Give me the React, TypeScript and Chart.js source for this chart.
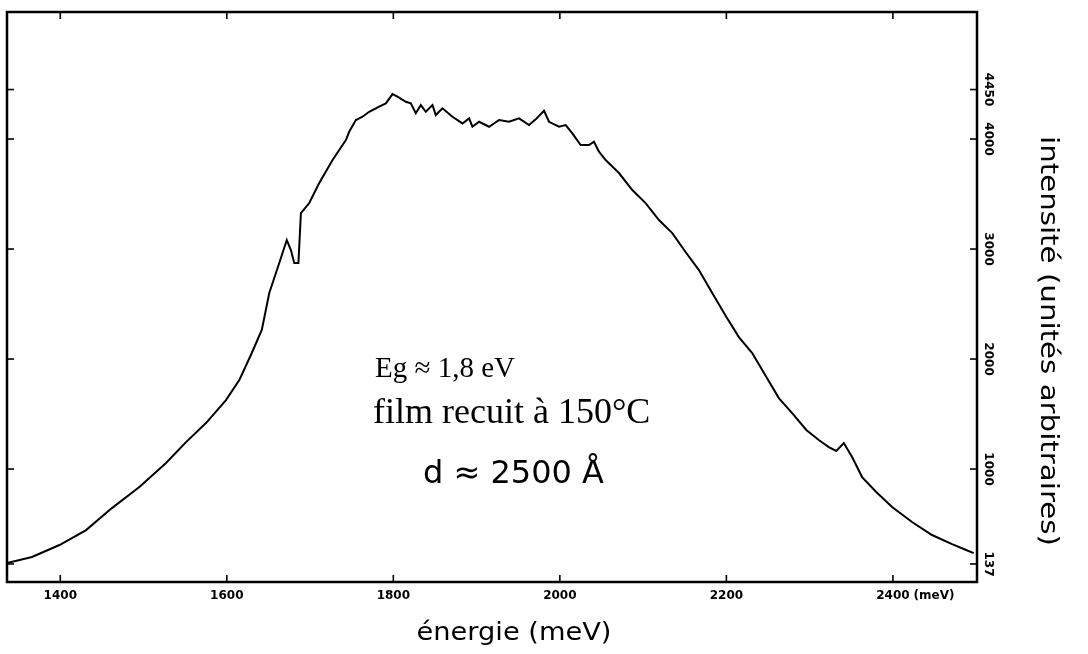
import React, { useEffect, useRef } from "react";
import { Chart, registerables } from "chart.js";

Chart.register(...registerables);

// Photon energy (meV)
const energyMeV = [
  1336, 1366, 1399, 1431, 1462, 1495, 1527, 1551, 1575, 1599, 1615, 1630, 1642, 1651, 1663,
  1672, 1677, 1681, 1686, 1689, 1699, 1711, 1727, 1743, 1747, 1755, 1763, 1771, 1783, 1791,
  1799, 1805, 1815, 1821, 1827, 1833, 1839, 1847, 1851, 1859, 1871, 1883, 1891, 1895, 1903,
  1915, 1927, 1939, 1951, 1963, 1971, 1981, 1987, 1999, 2007, 2015, 2025, 2035, 2041, 2047,
  2055, 2071, 2087, 2103, 2119, 2135, 2151, 2167, 2183, 2200, 2215, 2231, 2248, 2263, 2279,
  2296, 2311, 2323, 2332, 2341, 2351, 2363, 2380, 2399, 2423, 2447, 2471, 2488, 2497,
];

// Intensity (arbitrary units)
const intensity = [
  145, 200, 309, 445, 645, 836, 1055, 1245, 1418, 1627, 1809, 2055, 2264, 2600, 2873,
  3082, 2991, 2873, 2873, 3327, 3418, 3600, 3809, 3991, 4066, 4173, 4203, 4248, 4294, 4324,
  4409, 4385, 4339, 4324, 4234, 4309, 4248, 4309, 4218, 4279, 4203, 4142, 4188, 4112, 4157,
  4112, 4173, 4157, 4188, 4127, 4179, 4257, 4157, 4112, 4127, 4051, 3945, 3945, 3976, 3885,
  3809, 3691, 3536, 3418, 3264, 3145, 2973, 2809, 2600, 2382, 2200, 2055, 1836, 1645, 1509,
  1355, 1264, 1200, 1164, 1236, 1109, 927, 791, 655, 518, 400, 318, 264, 236,
];

const xTickValues = [1400, 1600, 1800, 2000, 2200, 2400];
const xTickLabels = ["1400", "1600", "1800", "2000", "2200", "2400"];
const xUnitLabel = "(meV)";
const yTickValues = [137, 1000, 2000, 3000, 4000, 4450];
const yTickLabels = ["137", "1000", "2000", "3000", "4000", "4450"];
const xTitle = "énergie (meV)";
const yTitle = "intensité (unités arbitraires)";
const noteGap = "Eg ≈ 1,8 eV";
const noteFilm = "film recuit à 150°C";
const noteThickness = "d ≈ 2500 Å";

const X_MIN = 1336;
const X_MAX = 2501;
const Y_MIN = -27;
const Y_MAX = 5155;

function fitText(ctx: CanvasRenderingContext2D, text: string, cx: number, cy: number, width: number, angle: number) {
  const w = ctx.measureText(text).width;
  ctx.save();
  ctx.translate(cx, cy);
  ctx.rotate(angle);
  ctx.scale(width / w, 1);
  ctx.textAlign = "center";
  ctx.textBaseline = "middle";
  ctx.fillText(text, 0, 0);
  ctx.restore();
}

const decorPlugin = {
  id: "decor",
  afterDraw(chart: any) {
    const { ctx, chartArea: a, scales } = chart;
    const xs = scales.x;
    const ys = scales.y;
    ctx.save();
    ctx.strokeStyle = "#000";
    ctx.fillStyle = "#000";
    // frame
    ctx.lineWidth = 2.5;
    ctx.strokeRect(a.left, a.top, a.right - a.left, a.bottom - a.top);
    // inward ticks
    ctx.lineWidth = 1.6;
    const seg = (x1: number, y1: number, x2: number, y2: number) => {
      ctx.beginPath();
      ctx.moveTo(x1, y1);
      ctx.lineTo(x2, y2);
      ctx.stroke();
    };
    xTickValues.forEach((v) => {
      const px = xs.getPixelForValue(v);
      seg(px, a.bottom, px, a.bottom - 7);
      seg(px, a.top, px, a.top + 7);
    });
    yTickValues.forEach((v) => {
      const py = ys.getPixelForValue(v);
      seg(a.right, py, a.right - 7, py);
      seg(a.left, py, a.left + 7, py);
    });

    // x tick labels
    ctx.font = "bold 12px 'DejaVu Sans'";
    ctx.textBaseline = "middle";
    ctx.textAlign = "center";
    xTickValues.forEach((v, i) => {
      const px = xs.getPixelForValue(v);
      ctx.fillText(xTickLabels[i], px, a.bottom + 14);
      if (i === xTickValues.length - 1) {
        const w = ctx.measureText(xTickLabels[i]).width;
        ctx.textAlign = "left";
        ctx.fillText(xUnitLabel, px + w / 2 + 4, a.bottom + 14);
        ctx.textAlign = "center";
      }
    });

    // y tick labels (rotated)
    yTickValues.forEach((v, i) => {
      const py = ys.getPixelForValue(v);
      ctx.save();
      ctx.translate(a.right + 11, py);
      ctx.rotate(Math.PI / 2);
      ctx.textAlign = "center";
      ctx.textBaseline = "middle";
      ctx.fillText(yTickLabels[i], 0, 0);
      ctx.restore();
    });

    // axis titles
    ctx.font = "24px 'DejaVu Sans'";
    fitText(ctx, xTitle, 514, 634, 195, 0);
    fitText(ctx, yTitle, 1047, 341, 410, Math.PI / 2);

    // annotations
    ctx.textAlign = "left";
    ctx.textBaseline = "alphabetic";
    ctx.font = "29px 'Liberation Serif'";
    ctx.fillText(noteGap, 375, 377);
    ctx.font = "36px 'Liberation Serif'";
    ctx.fillText(noteFilm, 373, 423);
    ctx.font = "32px 'DejaVu Sans'";
    ctx.fillText(noteThickness, 423, 483);
    ctx.restore();
  },
};

export default function App() {
  const ref = useRef<HTMLCanvasElement | null>(null);
  useEffect(() => {
    if (!ref.current) return;
    const chart = new Chart(ref.current, {
      type: "line",
      data: {
        datasets: [
          {
            data: energyMeV.map((e, i) => ({ x: e, y: intensity[i] })),
            borderColor: "#000",
            borderWidth: 2,
            pointRadius: 0,
            tension: 0,
            fill: false,
          },
        ],
      },
      options: {
        animation: false,
        responsive: false,
        maintainAspectRatio: false,
        layout: { padding: { left: 7, top: 12, right: 0, bottom: 0 } },
        plugins: { legend: { display: false }, tooltip: { enabled: false } },
        scales: {
          x: {
            type: "linear",
            min: X_MIN,
            max: X_MAX,
            grid: { display: false },
            border: { display: false },
            ticks: { display: false },
            afterFit: (s: any) => {
              s.height = 72;
            },
          },
          y: {
            type: "linear",
            position: "right",
            min: Y_MIN,
            max: Y_MAX,
            grid: { display: false },
            border: { display: false },
            ticks: { display: false },
            afterFit: (s: any) => {
              s.width = 111;
            },
          },
        },
      },
      plugins: [decorPlugin],
    });
    return () => chart.destroy();
  }, []);
  return (
    <div style={{ position: "absolute", left: 0, top: 0, width: 1088, height: 654, background: "#fff" }}>
      <canvas ref={ref} width={1088} height={654} style={{ display: "block" }} />
    </div>
  );
}
